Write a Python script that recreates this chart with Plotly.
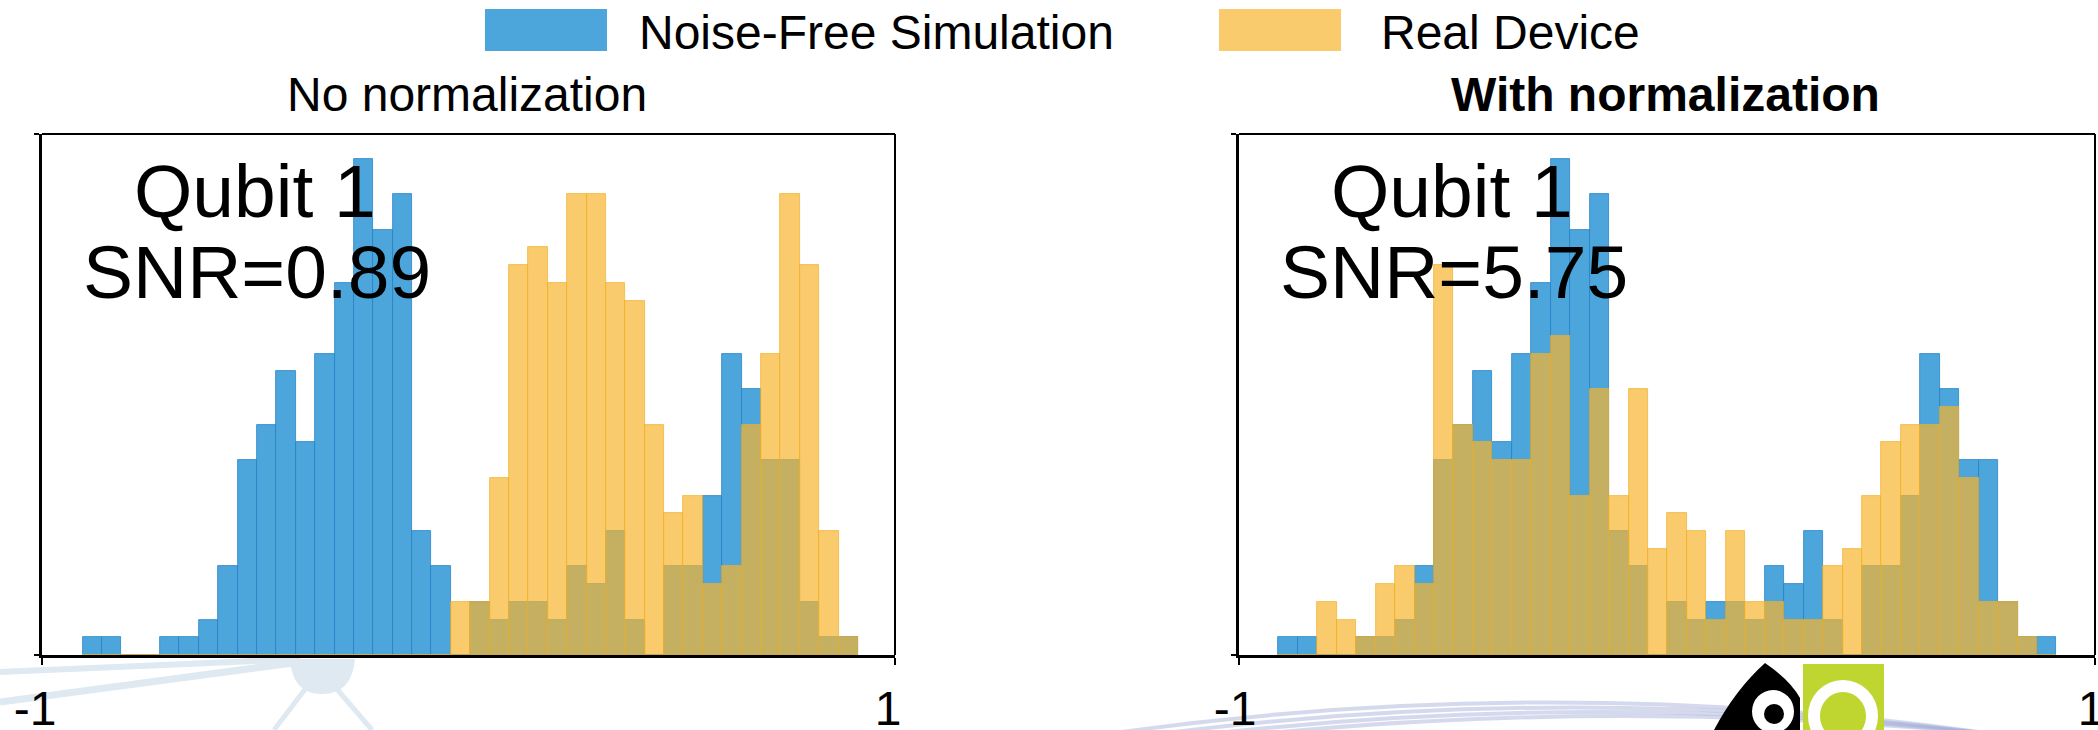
import plotly.graph_objects as go

# ---------------- data ----------------
series_names = ["Noise-Free Simulation", "Real Device"]
panel_titles = ["No normalization", "<b>With normalization</b>"]
qubit_labels = ["Qubit 1", "Qubit 1"]
snr_labels = ["SNR=0.89", "SNR=5.75"]

# 40 equal-width histogram bins (counts per bin), 300 shots each
bin_width = 0.04545
left_bin_start = -0.905
right_bin_start = -0.908

sim_counts_left = [1, 1, 0, 0, 1, 1, 2, 5, 11, 13, 16, 12, 17, 21, 28, 24, 26, 7, 5, 0,
                   3, 2, 3, 3, 2, 5, 4, 7, 2, 0, 5, 5, 9, 17, 15, 11, 11, 3, 1, 1]
dev_counts_left = [0, 0, 0, 0, 0, 0, 0, 0, 0, 0, 0, 0, 0, 0, 0, 0, 0, 0, 0, 3,
                   3, 10, 22, 23, 21, 26, 26, 21, 20, 13, 8, 9, 4, 5, 13, 17, 26, 22, 7, 1]

sim_counts_right = [1, 1, 0, 0, 1, 1, 2, 5, 11, 13, 16, 12, 17, 21, 28, 24, 26, 7, 5, 0,
                    3, 2, 3, 3, 2, 5, 4, 7, 2, 0, 5, 5, 9, 17, 15, 11, 11, 3, 1, 1]
dev_counts_right = [0, 0, 3, 2, 1, 4, 5, 4, 22, 13, 12, 11, 11, 17, 18, 9, 15, 9, 15, 6,
                    8, 7, 2, 7, 3, 3, 2, 2, 5, 6, 9, 12, 13, 13, 14, 10, 3, 3, 1, 0]

x_tick_vals = [-1, 1]
x_tick_text = ["-1", "1"]
y_max = 29.4

# ---------------- styling ----------------
W, H = 2098, 730
FONT = "Arial, Liberation Sans, sans-serif"
BLUE = "rgb(77,166,219)"
BLUE_EDGE = "rgba(30,125,195,0.9)"
ORANGE = "rgba(248,181,45,0.70)"
ORANGE_EDGE = "rgba(240,175,35,0.85)"


def px_x(p):
    return p / W


def px_y(p):
    return 1 - p / H


def centers(start, n):
    return [start + bin_width * (i + 0.5) for i in range(n)]


fig = go.Figure()

panels = [
    (left_bin_start, sim_counts_left, dev_counts_left, "x", "y"),
    (right_bin_start, sim_counts_right, dev_counts_right, "x2", "y2"),
]
for start, sim, dev, xa, ya in panels:
    xc = centers(start, len(sim))
    fig.add_trace(go.Bar(x=xc, y=sim, width=bin_width, name=series_names[0],
                         marker=dict(color=BLUE, line=dict(color=BLUE_EDGE, width=0.8)),
                         xaxis=xa, yaxis=ya, showlegend=False))
    fig.add_trace(go.Bar(x=xc, y=dev, width=bin_width, name=series_names[1],
                         marker=dict(color=ORANGE, line=dict(color=ORANGE_EDGE, width=0.8)),
                         xaxis=xa, yaxis=ya, showlegend=False))

x_domains = [[px_x(42), px_x(895)], [px_x(1239), px_x(2095)]]
y_domain = [px_y(655), px_y(134)]

common_x = dict(range=[-1, 1], showgrid=False, zeroline=False, showline=True,
                linecolor="black", linewidth=3, ticks="outside", ticklen=7,
                tickwidth=2, tickcolor="black", tickvals=x_tick_vals,
                ticktext=x_tick_text, tickfont=dict(family=FONT, size=48, color="black"),
                ticklabelstandoff=2, ticklabeloverflow="allow",
                automargin=False, fixedrange=True)
common_y = dict(range=[0, y_max], showgrid=False, zeroline=False, showline=True,
                linecolor="black", linewidth=3, ticks="outside", ticklen=5,
                tickwidth=2, tickcolor="black", tickvals=[0, y_max],
                showticklabels=False, automargin=False, fixedrange=True)

fig.update_layout(
    width=W, height=H, margin=dict(l=0, r=0, t=0, b=0, autoexpand=False),
    paper_bgcolor="white", plot_bgcolor="white",
    barmode="overlay", bargap=0, showlegend=False,
    xaxis=dict(domain=x_domains[0], anchor="y", ticklabelshift=-7, **common_x),
    yaxis=dict(domain=y_domain, anchor="x", **common_y),
    xaxis2=dict(domain=x_domains[1], anchor="y2", ticklabelshift=-4, **common_x),
    yaxis2=dict(domain=y_domain, anchor="x2", **common_y),
)

shapes = []
annotations = []

# ---- faint slide-background decorations (below everything) ----
PALE = "rgb(222,233,241)"
LAV = "rgba(160,170,215,0.45)"
deco_lines = [((0, 672), (300, 659), 6), ((0, 702), (300, 662), 7),
              ((306, 688), (274, 730), 5), ((336, 688), (372, 730), 5)]
for (xa0, ya0), (xa1, ya1), wd in deco_lines:
    shapes.append(dict(type="line", xref="paper", yref="paper", layer="below",
                       x0=px_x(xa0), y0=px_y(ya0), x1=px_x(xa1), y1=px_y(ya1),
                       line=dict(color=PALE, width=wd)))
shapes.append(dict(type="path", xref="paper", yref="paper", layer="below",
                   path=f"M {px_x(290)},{px_y(659)} Q {px_x(292)},{px_y(694)} {px_x(322)},{px_y(694)} "
                        f"Q {px_x(352)},{px_y(694)} {px_x(355)},{px_y(659)} Z",
                   fillcolor=PALE, line=dict(width=0)))
for k, (y_top, x_a, x_b) in enumerate([(700, 1100, 2000), (710, 1150, 2000), (719, 1200, 2000), (727, 1250, 2000)]):
    shapes.append(dict(type="path", xref="paper", yref="paper", layer="below",
                       path=f"M {px_x(x_a)},{px_y(735)} Q {px_x((x_a + x_b) / 2)},{px_y(y_top - 30)} {px_x(x_b)},{px_y(735)}",
                       line=dict(color=LAV, width=4)))
# logo-like blocks at the bottom right of the slide
shapes.append(dict(type="path", xref="paper", yref="paper", layer="below",
                   path=f"M {px_x(1765)},{px_y(663)} Q {px_x(1735)},{px_y(690)} {px_x(1714)},{px_y(730)} "
                        f"L {px_x(1800)},{px_y(730)} L {px_x(1800)},{px_y(698)} Q {px_x(1790)},{px_y(680)} {px_x(1765)},{px_y(663)} Z",
                   fillcolor="black", line=dict(width=0)))
shapes.append(dict(type="circle", xref="paper", yref="paper", layer="below",
                   x0=px_x(1752), x1=px_x(1794), y0=px_y(733), y1=px_y(690),
                   fillcolor="white", line=dict(width=0)))
shapes.append(dict(type="circle", xref="paper", yref="paper", layer="below",
                   x0=px_x(1764), x1=px_x(1784), y0=px_y(724), y1=px_y(704),
                   fillcolor="black", line=dict(width=0)))
shapes.append(dict(type="rect", xref="paper", yref="paper", layer="below",
                   x0=px_x(1803), x1=px_x(1884), y0=px_y(730), y1=px_y(664),
                   fillcolor="rgb(192,214,48)", line=dict(width=0)))
shapes.append(dict(type="circle", xref="paper", yref="paper", layer="below",
                   x0=px_x(1814), x1=px_x(1872), y0=px_y(746), y1=px_y(686),
                   fillcolor="rgba(0,0,0,0)", line=dict(color="white", width=12)))

for i, (xa, ya) in enumerate([("x", "y"), ("x2", "y2")]):
    # top and right frame lines
    shapes.append(dict(type="line", xref=f"{xa} domain", yref=f"{ya} domain",
                       x0=0, x1=1, y0=1, y1=1, line=dict(color="black", width=2)))
    shapes.append(dict(type="line", xref=f"{xa} domain", yref=f"{ya} domain",
                       x0=1, x1=1, y0=0, y1=1, line=dict(color="black", width=2)))

# panel titles
annotations.append(dict(text=panel_titles[0], x=px_x(467), y=px_y(95), xref="paper", yref="paper",
                        xanchor="center", yanchor="middle", showarrow=False,
                        font=dict(family=FONT, size=48, color="black")))
annotations.append(dict(text=panel_titles[1], x=px_x(1665), y=px_y(95), xref="paper", yref="paper",
                        xanchor="center", yanchor="middle", showarrow=False,
                        font=dict(family=FONT, size=48, color="black")))

# in-panel labels
for cx, q, s in [(255, qubit_labels[0], snr_labels[0]), (1452, qubit_labels[1], snr_labels[1])]:
    annotations.append(dict(text=q, x=px_x(cx), y=px_y(191), xref="paper", yref="paper",
                            xanchor="center", yanchor="middle", showarrow=False,
                            font=dict(family=FONT, size=75, color="black")))
    annotations.append(dict(text=s, x=px_x(cx + 2), y=px_y(272), xref="paper", yref="paper",
                            xanchor="center", yanchor="middle", showarrow=False,
                            font=dict(family=FONT, size=75, color="black")))

# legend (drawn manually to match the large swatches)
legend_items = [(485, 607, 637, series_names[0], BLUE),
                (1219, 1341, 1379, series_names[1], "rgb(250,203,108)")]
for x0, x1, tx, name, col in legend_items:
    shapes.append(dict(type="rect", xref="paper", yref="paper",
                       x0=px_x(x0), x1=px_x(x1), y0=px_y(51), y1=px_y(9),
                       fillcolor=col, line=dict(width=0)))
    annotations.append(dict(text=name, x=px_x(tx), y=px_y(32), xref="paper", yref="paper",
                            xanchor="left", yanchor="middle", showarrow=False,
                            font=dict(family=FONT, size=48, color="black")))

fig.update_layout(shapes=shapes, annotations=annotations)
fig.write_html("out.html")
